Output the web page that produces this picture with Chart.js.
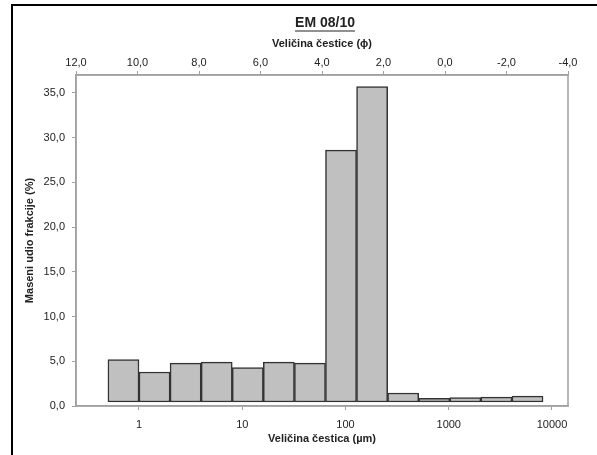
<!DOCTYPE html>
<html>
<head>
<meta charset="utf-8">
<script src="https://cdn.jsdelivr.net/npm/chart.js@4/dist/chart.umd.min.js"></script>
<style>
    body { margin: 0; background: #fff; }
    #wrap { position: relative; width: 597px; height: 455px; overflow: hidden; }
    #frame { position: absolute; left: 11px; top: 4px; width: 700px; height: 600px; border: 2px solid #000; pointer-events: none; }
</style>
</head>
<body>
<div id="wrap">
    <canvas id="chart" width="597" height="455"></canvas>
    <div id="frame"></div>
</div>
<script>
// size classes (µm) - bar edges, and mass fraction per class (%)
const binEdges = [0.5, 1, 2, 4, 8, 16, 32, 64, 128, 256, 512, 1024, 2048, 4096, 8192];
const massFraction = [5.2, 3.8, 4.8, 4.9, 4.3, 4.9, 4.8, 28.6, 35.7, 1.45, 0.85, 0.95, 1.0, 1.1];
const umTicks = [1, 10, 100, 1000, 10000];
const chartTitle = 'EM 08/10';

const BAR_BASE = 0.45;
const AXIS_GREY = '#a0a0a0';
const TEXT = '#222';

Chart.defaults.font.family = "'Liberation Sans', Arial, sans-serif";
Chart.defaults.font.size = 11;
Chart.defaults.color = TEXT;

const bars = massFraction.map((v, i) => ({
    x: Math.sqrt(binEdges[i] * binEdges[i + 1]),
    y: [BAR_BASE, v]
}));

function comma(v) {
    return Number(v).toFixed(1).replace('.', ',');
}

const frameAndTitle = {
    id: 'frameAndTitle',
    beforeDatasetsDraw(chart) {
        const a = chart.chartArea;
        const ctx = chart.ctx;
        ctx.save();
        ctx.strokeStyle = AXIS_GREY;
        ctx.lineWidth = 1.5;
        ctx.strokeRect(a.left, a.top, a.right - a.left, a.bottom - a.top);
        ctx.restore();
    },
    afterDraw(chart) {
        const a = chart.chartArea;
        const ctx = chart.ctx;
        const cx = (a.left + a.right) / 2 + 3;
        ctx.save();
        ctx.font = "bold 14px 'Liberation Sans', Arial, sans-serif";
        ctx.fillStyle = TEXT;
        ctx.textAlign = 'center';
        ctx.textBaseline = 'middle';
        ctx.fillText(chartTitle, cx, 23);
        const w = ctx.measureText(chartTitle).width;
        ctx.strokeStyle = TEXT;
        ctx.lineWidth = 1.2;
        ctx.beginPath();
        ctx.moveTo(cx - w / 2, 31);
        ctx.lineTo(cx + w / 2, 31);
        ctx.stroke();
        ctx.restore();
    }
};

new Chart(document.getElementById('chart'), {
    type: 'bar',
    data: {
        datasets: [{
            data: bars,
            xAxisID: 'x',
            yAxisID: 'y',
            backgroundColor: '#c0c0c0',
            borderColor: '#333',
            borderWidth: 1.5,
            borderSkipped: false,
            barPercentage: 1,
            categoryPercentage: 1
        }]
    },
    options: {
        responsive: false,
        animation: false,
        layout: { padding: { left: 12, right: 29, top: 35, bottom: 9 } },
        plugins: {
            legend: { display: false },
            tooltip: { enabled: false }
        },
        scales: {
            x: {
                type: 'logarithmic',
                position: 'bottom',
                offset: false,
                min: 0.2454,
                max: 14290,
                afterBuildTicks(scale) {
                    scale.ticks = umTicks.map(v => ({ value: v }));
                },
                afterFit(scale) { scale.height = 40; },
                ticks: {
                    callback: v => String(v),
                    maxRotation: 0,
                    autoSkip: false,
                    padding: 8
                },
                grid: { offset: false, drawOnChartArea: false, drawTicks: true, tickLength: 4, color: AXIS_GREY },
                border: { display: true, color: AXIS_GREY, width: 1.5 },
                title: {
                    display: true,
                    text: 'Veličina čestica (µm)',
                    font: { weight: 'bold', size: 11 },
                    padding: { top: 0, bottom: 0 }
                }
            },
            phi: {
                type: 'linear',
                position: 'top',
                offset: false,
                min: -4,
                max: 12,
                reverse: true,
                afterFit(scale) { scale.height = 40; },
                ticks: {
                    stepSize: 2,
                    includeBounds: false,
                    callback: v => comma(v),
                    maxRotation: 0,
                    autoSkip: false,
                    padding: 1
                },
                grid: { offset: false, drawOnChartArea: false, drawTicks: true, tickLength: 4, color: AXIS_GREY },
                border: { display: true, color: AXIS_GREY, width: 1.5 },
                title: {
                    display: true,
                    text: 'Veličina čestice (ϕ)',
                    font: { weight: 'bold', size: 11 },
                    padding: { top: 2, bottom: 0 }
                }
            },
            y: {
                type: 'linear',
                min: 0,
                max: 37,
                afterFit(scale) { scale.width = 64; },
                ticks: {
                    stepSize: 5,
                    includeBounds: false,
                    callback: v => comma(v),
                    padding: 7
                },
                grid: { drawOnChartArea: false, drawTicks: true, tickLength: 4, color: AXIS_GREY },
                border: { display: true, color: AXIS_GREY, width: 1.5 },
                title: {
                    display: true,
                    text: 'Maseni udio frakcije (%)',
                    font: { weight: 'bold', size: 11 },
                    padding: { top: 11, bottom: 0 }
                }
            }
        }
    },
    plugins: [frameAndTitle]
});
</script>
</body>
</html>
